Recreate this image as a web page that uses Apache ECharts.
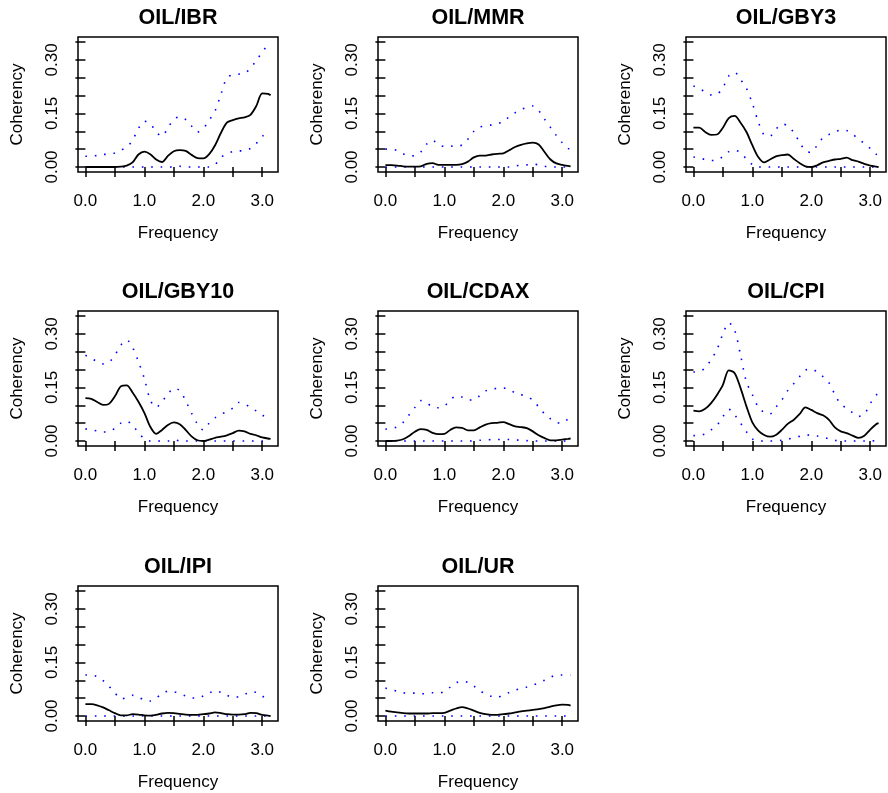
<!DOCTYPE html>
<html>
<head>
<meta charset="utf-8">
<script src="https://cdn.jsdelivr.net/npm/echarts@6/dist/echarts.min.js"></script>
<style>
  html, body { margin: 0; padding: 0; background: #fff; }
  #chart { width: 888px; height: 793px; }
</style>
</head>
<body>
<div id="chart"></div>
<script>
// frequencies (0 .. pi)
const freq = [0, 0.1, 0.2, 0.3, 0.4, 0.5, 0.6, 0.7, 0.8, 0.9, 1.0, 1.1, 1.2, 1.3, 1.4, 1.5, 1.6,
  1.7, 1.8, 1.9, 2.0, 2.1, 2.2, 2.3, 2.4, 2.5, 2.6, 2.7, 2.8, 2.9, 3.0, 3.1, 3.1416];

const titles = ['OIL/IBR', 'OIL/MMR', 'OIL/GBY3', 'OIL/GBY10', 'OIL/CDAX', 'OIL/CPI', 'OIL/IPI', 'OIL/UR'];

const xTicks = [0, 0.5, 1, 1.5, 2, 2.5, 3];
const xLabels = [0, 1, 2, 3];
const yTicks = [0, 0.05, 0.1, 0.15, 0.2, 0.25, 0.3, 0.35];
const yLabels = [0, 0.15, 0.3];

// coherency, upper and lower bands
const ibrCoh = [0, 0, 0, 0, 0, 0, 0.001, 0.004, 0.013, 0.035, 0.043, 0.036, 0.021, 0.014, 0.031, 0.044, 0.047,
  0.045, 0.034, 0.025, 0.024, 0.036, 0.061, 0.096, 0.124, 0.131, 0.136, 0.139, 0.146, 0.171, 0.206, 0.205, 0.201];
const ibrUpper = [0.030, 0.031, 0.032, 0.035, 0.036, 0.039, 0.047, 0.056, 0.075, 0.108, 0.128, 0.122, 0.098, 0.086, 0.110, 0.133, 0.141,
  0.133, 0.115, 0.098, 0.108, 0.131, 0.157, 0.204, 0.250, 0.258, 0.260, 0.262, 0.277, 0.298, 0.322, 0.342, 0.346];
const ibrLower = [0, 0, 0, 0, 0, 0, 0, 0, 0, 0, 0, 0, 0, 0, 0, 0, 0.002,
  0, 0, 0, 0, 0, 0.007, 0.027, 0.037, 0.043, 0.045, 0.046, 0.052, 0.066, 0.086, 0.095, 0.100];

const mmrCoh = [0.005, 0.005, 0.004, 0.002, 0.001, 0.001, 0.002, 0.009, 0.011, 0.006, 0.006, 0.006, 0.006, 0.008, 0.015, 0.027, 0.032,
  0.032, 0.035, 0.037, 0.038, 0.047, 0.056, 0.062, 0.066, 0.068, 0.063, 0.042, 0.021, 0.010, 0.006, 0.003, 0.002];
const mmrUpper = [0.050, 0.050, 0.046, 0.037, 0.031, 0.032, 0.042, 0.064, 0.075, 0.062, 0.058, 0.059, 0.057, 0.062, 0.078, 0.100, 0.112,
  0.114, 0.118, 0.122, 0.126, 0.141, 0.152, 0.161, 0.167, 0.171, 0.158, 0.134, 0.111, 0.088, 0.068, 0.052, 0.048];
const mmrLower = [0, 0, 0, 0, 0, 0, 0, 0, 0, 0, 0, 0, 0, 0, 0, 0, 0,
  0, 0, 0, 0, 0, 0.003, 0.005, 0.006, 0.008, 0.006, 0.002, 0, 0, 0, 0, 0];

const gby3Coh = [0.110, 0.110, 0.098, 0.090, 0.091, 0.110, 0.137, 0.143, 0.124, 0.098, 0.061, 0.028, 0.013, 0.021, 0.030, 0.033, 0.035,
  0.023, 0.011, 0.002, 0, 0.005, 0.013, 0.017, 0.021, 0.023, 0.026, 0.019, 0.015, 0.009, 0.004, 0.001, 0];
const gby3Upper = [0.227, 0.220, 0.210, 0.202, 0.204, 0.222, 0.255, 0.265, 0.245, 0.220, 0.178, 0.127, 0.090, 0.087, 0.106, 0.120, 0.116,
  0.097, 0.070, 0.045, 0.041, 0.061, 0.082, 0.091, 0.099, 0.103, 0.102, 0.092, 0.078, 0.066, 0.052, 0.036, 0.033];
const gby3Lower = [0.028, 0.025, 0.021, 0.018, 0.019, 0.030, 0.043, 0.047, 0.040, 0.022, 0.007, 0, 0, 0, 0, 0, 0,
  0, 0, 0, 0, 0, 0, 0, 0, 0, 0, 0, 0, 0, 0, 0, 0];

const gby10Coh = [0.120, 0.118, 0.109, 0.101, 0.104, 0.125, 0.153, 0.156, 0.136, 0.110, 0.079, 0.040, 0.020, 0.031, 0.045, 0.052, 0.047,
  0.031, 0.013, 0.002, 0, 0.004, 0.009, 0.012, 0.016, 0.022, 0.029, 0.027, 0.020, 0.016, 0.010, 0.007, 0.006];
const gby10Upper = [0.240, 0.232, 0.222, 0.216, 0.221, 0.240, 0.268, 0.283, 0.262, 0.222, 0.175, 0.115, 0.094, 0.111, 0.131, 0.148, 0.141,
  0.113, 0.078, 0.048, 0.031, 0.050, 0.065, 0.075, 0.082, 0.092, 0.108, 0.104, 0.094, 0.084, 0.073, 0.060, 0.057];
const gby10Lower = [0.034, 0.031, 0.028, 0.025, 0.026, 0.036, 0.050, 0.056, 0.043, 0.024, 0.006, 0, 0, 0, 0, 0.004, 0,
  0, 0, 0, 0, 0, 0, 0, 0, 0, 0, 0, 0, 0, 0, 0, 0];

const cdaxCoh = [0, 0, 0.001, 0.005, 0.014, 0.026, 0.033, 0.031, 0.023, 0.019, 0.020, 0.031, 0.038, 0.037, 0.030, 0.030, 0.038,
  0.046, 0.050, 0.051, 0.053, 0.047, 0.041, 0.039, 0.036, 0.027, 0.016, 0.008, 0.002, 0.002, 0.004, 0.006, 0.007];
const cdaxUpper = [0.033, 0.035, 0.040, 0.052, 0.073, 0.094, 0.113, 0.107, 0.095, 0.093, 0.098, 0.115, 0.126, 0.123, 0.115, 0.115, 0.127,
  0.140, 0.146, 0.147, 0.148, 0.145, 0.134, 0.130, 0.124, 0.115, 0.095, 0.076, 0.062, 0.052, 0.050, 0.062, 0.065];
const cdaxLower = [0, 0, 0, 0, 0, 0, 0, 0, 0, 0, 0, 0, 0, 0, 0, 0, 0.002,
  0.003, 0.004, 0.004, 0.004, 0.004, 0.003, 0.002, 0.001, 0, 0, 0, 0, 0, 0, 0, 0];

const cpiCoh = [0.085, 0.083, 0.090, 0.106, 0.129, 0.157, 0.198, 0.190, 0.148, 0.097, 0.052, 0.029, 0.017, 0.012, 0.017, 0.031, 0.048,
  0.059, 0.075, 0.094, 0.087, 0.078, 0.072, 0.059, 0.038, 0.027, 0.022, 0.015, 0.009, 0.015, 0.032, 0.047, 0.050];
const cpiUpper = [0.193, 0.194, 0.205, 0.228, 0.256, 0.300, 0.331, 0.310, 0.240, 0.165, 0.130, 0.095, 0.080, 0.076, 0.095, 0.115, 0.141,
  0.160, 0.180, 0.198, 0.202, 0.193, 0.180, 0.163, 0.130, 0.103, 0.092, 0.079, 0.069, 0.075, 0.105, 0.128, 0.139];
const cpiLower = [0.015, 0.016, 0.020, 0.031, 0.044, 0.068, 0.089, 0.073, 0.050, 0.026, 0.006, 0, 0, 0, 0, 0.002, 0.005,
  0.009, 0.013, 0.017, 0.016, 0.014, 0.011, 0.006, 0.002, 0, 0, 0, 0, 0, 0, 0.001, 0.002];

const ipiCoh = [0.033, 0.033, 0.030, 0.024, 0.016, 0.008, 0.002, 0.002, 0.005, 0.004, 0.002, 0.001, 0.003, 0.007, 0.009, 0.008, 0.006,
  0.004, 0.003, 0.003, 0.005, 0.007, 0.010, 0.008, 0.005, 0.004, 0.004, 0.005, 0.009, 0.008, 0.003, 0.001, 0];
const ipiUpper = [0.115, 0.115, 0.110, 0.099, 0.083, 0.065, 0.048, 0.051, 0.058, 0.053, 0.044, 0.042, 0.050, 0.064, 0.069, 0.068, 0.063,
  0.056, 0.051, 0.050, 0.056, 0.064, 0.071, 0.066, 0.058, 0.052, 0.054, 0.060, 0.068, 0.066, 0.056, 0.044, 0.042];
const ipiLower = [0, 0, 0, 0, 0, 0, 0, 0, 0, 0, 0, 0, 0, 0, 0, 0, 0,
  0, 0, 0, 0, 0, 0, 0, 0, 0, 0, 0, 0, 0, 0, 0, 0];

const urCoh = [0.015, 0.012, 0.010, 0.008, 0.007, 0.007, 0.007, 0.007, 0.008, 0.008, 0.009, 0.015, 0.021, 0.025, 0.021, 0.015, 0.009,
  0.005, 0.003, 0.003, 0.005, 0.007, 0.010, 0.013, 0.015, 0.017, 0.019, 0.022, 0.026, 0.030, 0.032, 0.031, 0.029];
const urUpper = [0.078, 0.074, 0.069, 0.065, 0.064, 0.064, 0.062, 0.063, 0.065, 0.064, 0.069, 0.081, 0.093, 0.098, 0.094, 0.084, 0.071,
  0.062, 0.055, 0.052, 0.060, 0.066, 0.072, 0.078, 0.081, 0.086, 0.093, 0.100, 0.108, 0.115, 0.115, 0.115, 0.115];
const urLower = [0, 0, 0, 0, 0, 0, 0, 0, 0, 0, 0, 0, 0, 0, 0, 0, 0,
  0, 0, 0, 0, 0, 0, 0, 0, 0, 0, 0, 0, 0, 0, 0, 0];

const cohList = [ibrCoh, mmrCoh, gby3Coh, gby10Coh, cdaxCoh, cpiCoh, ipiCoh, urCoh];
const upperList = [ibrUpper, mmrUpper, gby3Upper, gby10Upper, cdaxUpper, cpiUpper, ipiUpper, urUpper];
const lowerList = [ibrLower, mmrLower, gby3Lower, gby10Lower, cdaxLower, cpiLower, ipiLower, urLower];

// panel layout (plot box of each panel)
const colLeft = [78, 378, 686];
const rowTop = [37, 311, 586];
const boxW = 200, boxH = 135;
const font = 'Liberation Sans, Arial, Helvetica, sans-serif';

let myChart = echarts.init(document.getElementById('chart'));

let grids = [], xAxes = [], yAxes = [], series = [], titleList = [];

function pairs(arr) {
    return freq.map(function (f, i) { return [f, arr[i]]; });
}

titles.forEach(function (name, k) {
    let left = colLeft[k % 3], top = rowTop[Math.floor(k / 3)];
    grids.push({
        left: left, top: top, width: boxW, height: boxH,
        show: true, borderColor: '#000', borderWidth: 1.5, backgroundColor: 'transparent'
    });
    titleList.push({
        text: name, left: left + boxW / 2, top: top - 30, textAlign: 'center', padding: 0,
        textStyle: { fontFamily: font, fontSize: 21.5, fontWeight: 'bold', color: '#000' }
    });
    xAxes.push({
        gridIndex: k, type: 'value', min: -0.1257, max: 3.2673,
        name: 'Frequency', nameLocation: 'middle', nameGap: 53,
        nameTextStyle: { fontFamily: font, fontSize: 17, color: '#000' },
        axisLine: { show: false },
        splitLine: { show: false },
        axisTick: { show: true, length: 10, customValues: xTicks, lineStyle: { color: '#000', width: 1.5 } },
        axisLabel: {
            customValues: xLabels, margin: 21, fontFamily: font, fontSize: 17, color: '#000',
            formatter: function (v) { return v.toFixed(1); }
        }
    });
    yAxes.push({
        gridIndex: k, type: 'value', min: -0.014, max: 0.364,
        name: 'Coherency', nameLocation: 'middle', nameGap: 52,
        nameTextStyle: { fontFamily: font, fontSize: 17, color: '#000' },
        axisLine: { show: false },
        splitLine: { show: false },
        axisTick: { show: true, length: 10, customValues: yTicks, lineStyle: { color: '#000', width: 1.5 } },
        axisLabel: {
            customValues: yLabels, rotate: 90, margin: 17, fontFamily: font, fontSize: 17, color: '#000',
            formatter: function (v) { return v.toFixed(2); }
        }
    });
    [upperList[k], lowerList[k]].forEach(function (band) {
        series.push({
            type: 'line', xAxisIndex: k, yAxisIndex: k, data: pairs(band),
            smooth: 0.3, showSymbol: false, silent: true,
            lineStyle: { color: '#0000ff', width: 1.6, type: [1.6, 7.8] }
        });
    });
    series.push({
        type: 'line', xAxisIndex: k, yAxisIndex: k, data: pairs(cohList[k]),
        smooth: 0.3, showSymbol: false, silent: true,
        lineStyle: { color: '#000', width: 1.8 }
    });
});

myChart.setOption({
    animation: false,
    backgroundColor: '#fff',
    title: titleList,
    grid: grids,
    xAxis: xAxes,
    yAxis: yAxes,
    series: series
});

window.addEventListener('resize', function () {
    myChart.resize();
});
</script>
</body>
</html>
